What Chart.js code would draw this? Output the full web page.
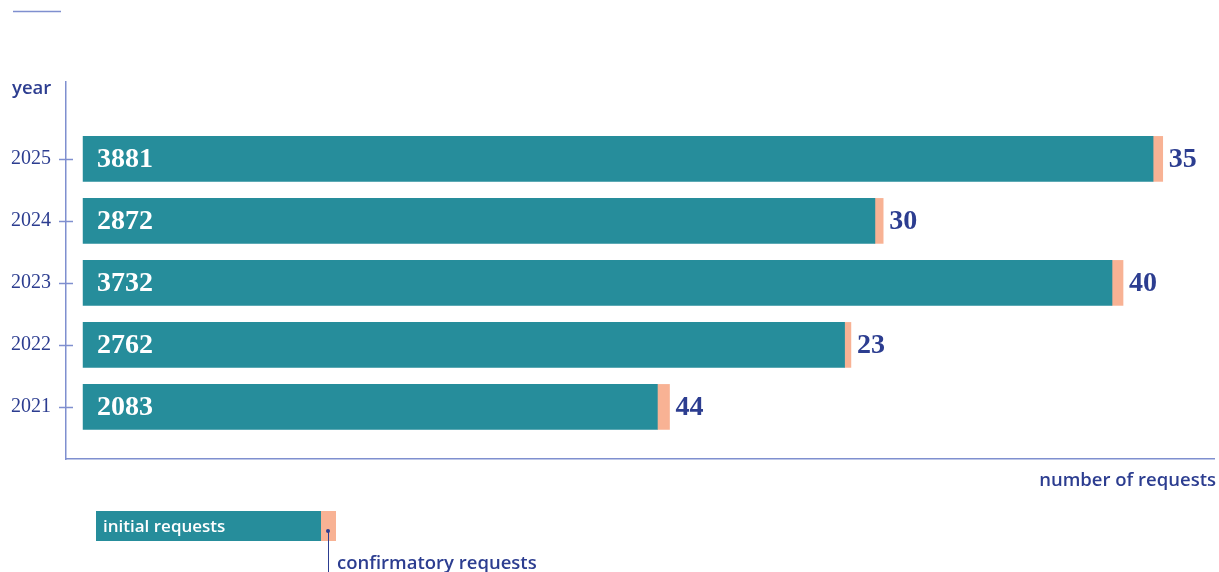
<!DOCTYPE html>
<html><head><meta charset="utf-8">
<script src="https://cdn.jsdelivr.net/npm/chart.js@4.4.1/dist/chart.umd.min.js"></script>
<style>html,body{margin:0;padding:0;background:#fff;}#wrap{width:1219px;height:572px;position:relative;}</style>
</head><body><div id="wrap"><canvas id="c"></canvas></div>
<script>
const years = [2025, 2024, 2023, 2022, 2021];
const initialRequests = [3881, 2872, 3732, 2762, 2083];
const confirmatoryRequests = [35, 30, 40, 23, 44];
const seriesNames = ['initial requests', 'confirmatory requests'];
const axisTitles = {y: 'year', x: 'number of requests'};

const TEAL = '#268d9b', SALMON = '#f8b294', BLUE = '#2c3d90', LINE = '#7f8fcf';
const SANS = '"Open Sans", "Noto Sans", sans-serif';
const SERIF = '"Liberation Serif", serif';

const deco = {
  id: 'deco',
  afterDatasetsDraw(chart) {
    const ctx = chart.ctx, ca = chart.chartArea;
    const m0 = chart.getDatasetMeta(0), m1 = chart.getDatasetMeta(1);
    ctx.save();
    ctx.textBaseline = 'middle';
    ctx.font = 'bold 28px ' + SERIF;
    m0.data.forEach((b, i) => {
      ctx.fillStyle = '#ffffff'; ctx.textAlign = 'left';
      ctx.fillText(String(initialRequests[i]), b.base + 14, b.y + 1);
      const b1 = m1.data[i];
      ctx.fillStyle = BLUE;
      ctx.fillText(String(confirmatoryRequests[i]), b1.x + 6, b1.y + 1);
    });
    const ys = chart.scales.y;
    ctx.strokeStyle = LINE; ctx.lineWidth = 1.5;
    years.forEach(v => {
      const y = Math.round(ys.getPixelForValue(v)) + 0.5;
      ctx.beginPath(); ctx.moveTo(ca.left - 7, y); ctx.lineTo(ca.left + 7, y); ctx.stroke();
    });
    ctx.beginPath(); ctx.moveTo(13, 11.5); ctx.lineTo(61, 11.5); ctx.stroke();
    ctx.fillStyle = BLUE;
    ctx.font = '600 18.5px ' + SANS;
    ctx.textAlign = 'left'; ctx.textBaseline = 'alphabetic';
    ctx.fillText(axisTitles.y, 12, 94);
    ctx.textAlign = 'right';
    ctx.fillText(axisTitles.x, 1216, 486);
    ctx.fillStyle = TEAL; ctx.fillRect(96, 511, 225, 30);
    ctx.fillStyle = SALMON; ctx.fillRect(321, 511, 15, 30);
    ctx.fillStyle = '#ffffff'; ctx.textAlign = 'left';
    ctx.font = '600 17px ' + SANS;
    ctx.fillText(seriesNames[0], 103, 532);
    ctx.fillStyle = BLUE;
    ctx.beginPath(); ctx.arc(328, 531, 2, 0, Math.PI * 2); ctx.fill();
    ctx.strokeStyle = BLUE; ctx.lineWidth = 1;
    ctx.beginPath(); ctx.moveTo(328.5, 531); ctx.lineTo(328.5, 572); ctx.stroke();
    ctx.font = '600 18.5px ' + SANS;
    ctx.fillText(seriesNames[1], 337, 569);
    ctx.restore();
  }
};

new Chart(document.getElementById('c'), {
  type: 'bar',
  data: {
    datasets: [
      {label: seriesNames[0], data: years.map((y, i) => ({y: y, x: initialRequests[i]})), backgroundColor: TEAL, barThickness: 45},
      {label: seriesNames[1], data: years.map((y, i) => ({y: y, x: confirmatoryRequests[i]})), backgroundColor: SALMON, barThickness: 45}
    ]
  },
  options: {
    indexAxis: 'y',
    responsive: true, maintainAspectRatio: false, animation: false,
    layout: {padding: {left: 0, top: 82, right: 5, bottom: 113}},
    plugins: {legend: {display: false}, tooltip: {enabled: false}},
    scales: {
      x: {
        type: 'linear', stacked: true, min: -62, max: 4102,
        grid: {display: false},
        border: {display: true, color: LINE, width: 1.5},
        ticks: {display: false},
        afterFit(s) { s.height = 0; }
      },
      y: {
        type: 'linear', stacked: true, reverse: false, offset: false, min: 2020.16, max: 2026.24,
        grid: {display: false},
        border: {display: true, color: LINE, width: 1.5},
        afterBuildTicks(s) { s.ticks = years.map(v => ({value: v})); },
        afterFit(s) { s.width = 66; },
        ticks: {
          color: BLUE, padding: 7,
          font: {family: SERIF, size: 20},
          callback: v => String(v)
        }
      }
    }
  },
  plugins: [deco]
});
</script></body></html>
